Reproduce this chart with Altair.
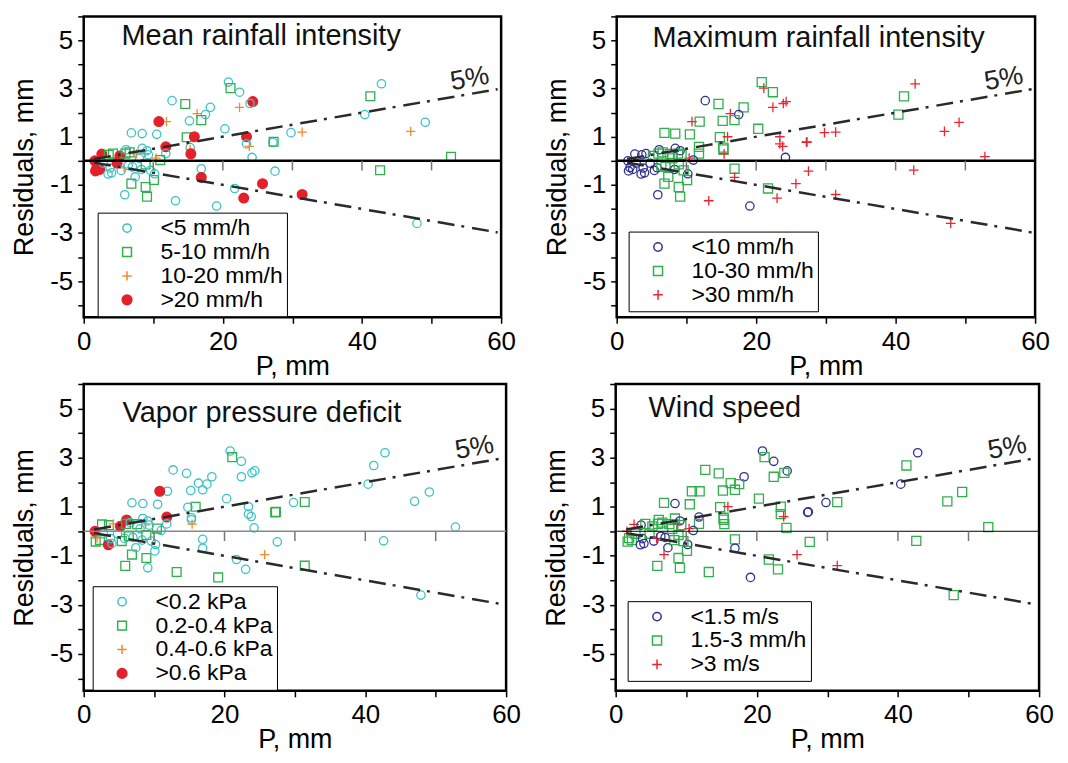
import altair as alt
import pandas as pd

FONT = "Liberation Sans"

# ---------------- data ----------------
P = [20.8, 21.1, 42.8, 22.4, 41.2, 12.7, 24.3, 23.9, 14.6, 22.4,
     18.2, 16.3, 17.5, 40.4, 16.9, 15.2, 11.9, 10.8, 49.1, 20.3,
     31.4, 29.8, 47.0, 6.85, 8.4, 10.5, 14.8, 15.9, 23.4, 27.2,
     27.3, 23.4, 23.8, 24.2, 15.3, 15.3, 15.4, 16.9, 16.9, 27.5,
     42.6, 52.8, 21.7, 25.7, 23.0, 31.4, 13.2, 19.1, 47.9, 5.9,
     9.1, 8.9, 6.85, 10.1, 10.2, 11.8, 11.8, 11.0, 10.4,
     1.6, 1.7, 1.9, 2.3, 2.6, 2.8, 3.5, 3.6, 3.8, 4.0,
     4.2, 4.8, 5.2, 5.4, 5.8, 6.1, 6.0, 6.4, 6.6, 7.0,
     7.4, 7.6, 8.0, 8.3, 8.4, 8.8, 8.9, 9.1, 9.3, 9.6]

R = [3.27, 3.02, 3.2, 2.85, 2.68, 2.5, 2.46, 2.38, 2.36, 2.22,
     2.22, 1.96, 1.92, 1.92, 1.69, 1.66, 1.63, 1.63, 1.6, 1.33,
     1.19, 1.17, 1.22, 1.16, 1.13, 1.1, 0.98, 1.0, 1.0, 0.77,
     0.79, 0.7, 0.6, 0.14, 0.55, 0.47, 0.29, -0.33, -0.69, -0.43,
     -0.39, 0.17, -1.15, -0.95, -1.55, -1.4, -1.66, -1.88, -2.6, -1.41,
     -1.49, -1.09, -0.95, -0.8, -0.54, 0.58, 0.3, 0.03, 0.11,
     0.0, -0.42, -0.28, -0.36, 0.28, -0.1, -0.55, 0.25, -0.3, -0.5,
     0.3, -0.1, 0.2, -0.4, -0.29, 0.46, 0.3, -0.2, 0.35, -0.25,
     -0.67, 0.29, 0.1, -0.36, 0.52, 0.3, -0.15, 0.42, 0.25, -0.4]

MEAN_CAT = [0, 1, 0, 0, 1, 0, 3, 0, 1, 2,
            0, 2, 0, 0, 1, 0, 2, 3, 0, 0,
            2, 0, 2, 0, 0, 0, 1, 3, 3, 0,
            1, 0, 2, 0, 0, 2, 3, 0, 3, 0,
            1, 1, 0, 3, 3, 3, 0, 0, 0, 0,
            1, 1, 1, 1, 0, 3, 0, 1, 2,
            3, 3, 3, 3, 3, 0, 0, 1, 0, 0,
            1, 3, 3, 0, 2, 0, 1, 0, 1, 0,
            0, 2, 0, 0, 0, 2, 1, 0, 0, 0]

MAX_CAT = [1, 2, 2, 1, 1, 0, 2, 2, 1, 2,
           1, 2, 0, 1, 1, 1, 1, 2, 2, 1,
           2, 2, 2, 1, 1, 1, 1, 2, 2, 2,
           2, 2, 2, 0, 1, 1, 2, 1, 2, 2,
           2, 2, 1, 2, 2, 2, 2, 0, 2, 0,
           1, 1, 1, 1, 0, 1, 1, 0, 2,
           0, 0, 0, 0, 0, 0, 0, 0, 0, 0,
           0, 0, 1, 0, 0, 0, 1, 1, 1, 1,
           1, 1, 1, 0, 0, 1, 1, 0, 1, 1]

VPD_CAT = [0, 1, 0, 0, 0, 0, 0, 0, 0, 0,
           0, 0, 0, 0, 0, 0, 0, 3, 0, 0,
           1, 0, 0, 0, 0, 0, 0, 1, 0, 1,
           1, 0, 0, 0, 0, 0, 2, 0, 0, 0,
           0, 0, 0, 2, 0, 1, 1, 1, 0, 1,
           0, 1, 1, 0, 0, 3, 0, 0, 1,
           3, 1, 2, 1, 1, 0, 3, 1, 0, 0,
           2, 0, 3, 1, 0, 3, 1, 1, 0, 0,
           0, 1, 0, 0, 0, 2, 1, 0, 0, 0]

WIND_CAT = [0, 1, 0, 0, 1, 1, 0, 1, 1, 1,
            0, 1, 1, 0, 1, 1, 1, 1, 1, 1,
            1, 0, 1, 1, 0, 1, 1, 2, 1, 0,
            0, 1, 2, 1, 1, 1, 1, 1, 0, 1,
            1, 1, 1, 2, 1, 2, 1, 0, 1, 1,
            1, 1, 2, 1, 0, 0, 1, 0, 2,
            2, 1, 1, 1, 2, 1, 0, 0, 0, 0,
            1, 1, 1, 0, 2, 1, 1, 0, 1, 0,
            0, 1, 1, 1, 1, 2, 1, 0, 1, 1]

MEAN_LABELS = ["<5 mm/h", "5-10 mm/h", "10-20 mm/h", ">20 mm/h"]
MAX_LABELS = ["<10 mm/h", "10-30 mm/h", ">30 mm/h"]
VPD_LABELS = ["<0.2 kPa", "0.2-0.4 kPa", "0.4-0.6 kPa", ">0.6 kPa"]
WIND_LABELS = ["<1.5 m/s", "1.5-3 mm/h", ">3 m/s"]

# 5 % envelope end points
BOUND_P = [1.5, 59.5]
BOUND_UP = [0.075, 2.975]
BOUND_LO = [-0.075, -2.975]
ZERO_TICKS = [10, 20, 30, 40, 50]
ZERO_TICK_END = -0.4
LABEL_5 = {"P": [55.5], "R": [3.4], "t": ["5%"]}

X_TICKS = [0, 10, 20, 30, 40, 50, 60]
X_LABELLED = [0, 20, 40, 60]
Y_TICKS = [-6, -5, -4, -3, -2, -1, 0, 1, 2, 3, 4, 5, 6]
Y_LABELLED = [-5, -3, -1, 1, 3, 5]

df = pd.DataFrame({"P": P, "R": R})
df["mean_cat"] = [MEAN_LABELS[i] for i in MEAN_CAT]
df["max_cat"] = [MAX_LABELS[i] for i in MAX_CAT]
df["vpd_cat"] = [VPD_LABELS[i] for i in VPD_CAT]
df["wind_cat"] = [WIND_LABELS[i] for i in WIND_CAT]

bounds = pd.DataFrame({"P": BOUND_P, "up": BOUND_UP, "lo": BOUND_LO})
zticks = pd.DataFrame({"P": ZERO_TICKS, "y0": [0] * len(ZERO_TICKS),
                       "y1": [ZERO_TICK_END] * len(ZERO_TICKS)})
zero = pd.DataFrame({"y": [0]})
lab5 = pd.DataFrame(LABEL_5)

PLUS = "M-1,0L1,0M0,-1L0,1"
CYAN = "#3cc3c6"
GREEN = "#2fb04c"
ORANGE = "#f28a30"
RED = "#e4202a"
NAVY = "#2e3192"
REDP = "#ee2430"
NONE = "transparent"

LAB = 26
TIT = 27

XS = alt.Scale(domain=[0, 60], nice=False, zero=False)
YS = alt.Scale(domain=[-6.5, 6], nice=False, zero=False)


def in_list(vals):
    return "indexof([" + ",".join(str(v) for v in vals) + "], datum.value) >= 0"


X_AXIS = alt.Axis(values=X_TICKS, title="P, mm", labelOverlap=False,
                  labelExpr="'' + datum.value",
                  labelFontSize={"condition": {"test": in_list(X_LABELLED), "value": LAB}, "value": 0})
Y_AXIS = alt.Axis(values=Y_TICKS, title="Residuals, mm", labelOverlap=False,
                  labelExpr="'' + datum.value",
                  labelFontSize={"condition": {"test": in_list(Y_LABELLED), "value": LAB}, "value": 0})


def X(f):
    return alt.X(f, scale=XS, axis=X_AXIS)


def Y(f):
    return alt.Y(f, scale=YS, axis=Y_AXIS)


def panel(field, labels, colors, fills, shapes, sizes, title, title_xy,
          zero_color, zero_w, legend_xy, w, h):
    leg = alt.Legend(title=None, orient="none", legendX=legend_xy[0],
                     legendY=legend_xy[1], strokeColor="black",
                     fillColor="white", padding=4, rowPadding=0,
                     labelFont=FONT, labelFontSize=23, labelColor="black",
                     symbolOffset=14, labelOffset=22, symbolStrokeWidth=1.5)
    pts = alt.Chart(df).mark_point(strokeWidth=1.3, opacity=1).encode(
        x=X("P:Q"), y=Y("R:Q"),
        stroke=alt.Stroke(f"{field}:N", scale=alt.Scale(domain=labels, range=colors), legend=leg),
        fill=alt.Fill(f"{field}:N", scale=alt.Scale(domain=labels, range=fills), legend=leg),
        shape=alt.Shape(f"{field}:N", scale=alt.Scale(domain=labels, range=shapes), legend=leg),
        size=alt.Size(f"{field}:N", scale=alt.Scale(domain=labels, range=sizes), legend=leg),
    )
    zl = alt.Chart(zero).mark_rule(color=zero_color, strokeWidth=zero_w).encode(y=Y("y:Q"))
    zt = alt.Chart(zticks).mark_rule(color="#777777", strokeWidth=1.5).encode(
        x=X("P:Q"), y=Y("y0:Q"), y2="y1:Q")
    up = alt.Chart(bounds).mark_line(color="#2a2a2a", strokeWidth=2.5,
                                     strokeDash=[17, 7, 3, 8]).encode(x=X("P:Q"), y=Y("up:Q"))
    lo = alt.Chart(bounds).mark_line(color="#2a2a2a", strokeWidth=2.5,
                                     strokeDash=[17, 7, 3, 8]).encode(x=X("P:Q"), y=Y("lo:Q"))
    t5 = alt.Chart(lab5).mark_text(font=FONT, fontSize=27, angle=350,
                                   color="#222222").encode(x=X("P:Q"), y=Y("R:Q"), text="t:N")
    tt = alt.Chart(pd.DataFrame({"t": [title]})).mark_text(
        font=FONT, fontSize=29, align="left", baseline="alphabetic",
        color="#111111").encode(x=alt.value(title_xy[0]), y=alt.value(title_xy[1]),
                                text="t:N")
    return alt.layer(pts, zl, zt, up, lo, t5, tt).properties(width=w, height=h)


p1 = panel("mean_cat", MEAN_LABELS, [CYAN, GREEN, ORANGE, RED],
           [NONE, NONE, NONE, RED], ["circle", "square", PLUS, "circle"],
           [70, 95, 90, 100], "Mean rainfall intensity", (38, 29),
           "black", 2.5, (14, 197), 419, 302)
p2 = panel("max_cat", MAX_LABELS, [NAVY, GREEN, REDP],
           [NONE, NONE, NONE], ["circle", "square", PLUS],
           [70, 95, 90], "Maximum rainfall intensity", (36, 31),
           "black", 2.5, (12, 216), 420, 302)
p3 = panel("vpd_cat", VPD_LABELS, [CYAN, GREEN, ORANGE, RED],
           [NONE, NONE, NONE, RED], ["circle", "square", PLUS, "circle"],
           [70, 95, 90, 100], "Vapor pressure deficit", (39, 38),
           "#888888", 1.5, (9, 203), 424, 308)
p4 = panel("wind_cat", WIND_LABELS, [NAVY, GREEN, REDP],
           [NONE, NONE, NONE], ["circle", "square", PLUS],
           [70, 95, 90], "Wind speed", (33, 33),
           "black", 1, (12, 218), 425, 308)

RES = dict(stroke="independent", fill="independent", shape="independent",
           size="independent")

row1 = alt.hconcat(p1, p2, spacing=25).resolve_scale(**RES).resolve_legend(**RES)
row2 = alt.hconcat(p3, p4, spacing=19).resolve_scale(**RES).resolve_legend(**RES)

chart = alt.vconcat(row1, row2, spacing=1).resolve_scale(**RES).resolve_legend(**RES).properties(
    padding={"left": 1, "top": 5, "right": 5, "bottom": 0}
).configure_view(
    stroke="black", strokeWidth=2.5
).configure_axis(
    domain=False, grid=False, tickColor="black", tickWidth=1.5, tickSize=6,
    labelFont=FONT, labelColor="black", labelPadding=5,
    labelOverlap=False, labelFlush=False,
    titleFont=FONT, titleFontSize=TIT, titleFontWeight="normal", titleColor="black"
).configure_axisX(labelPadding=5, titlePadding=-1).configure_axisY(titlePadding=11)

chart.save("out.html", embed_options={"renderer": "svg", "actions": False})
